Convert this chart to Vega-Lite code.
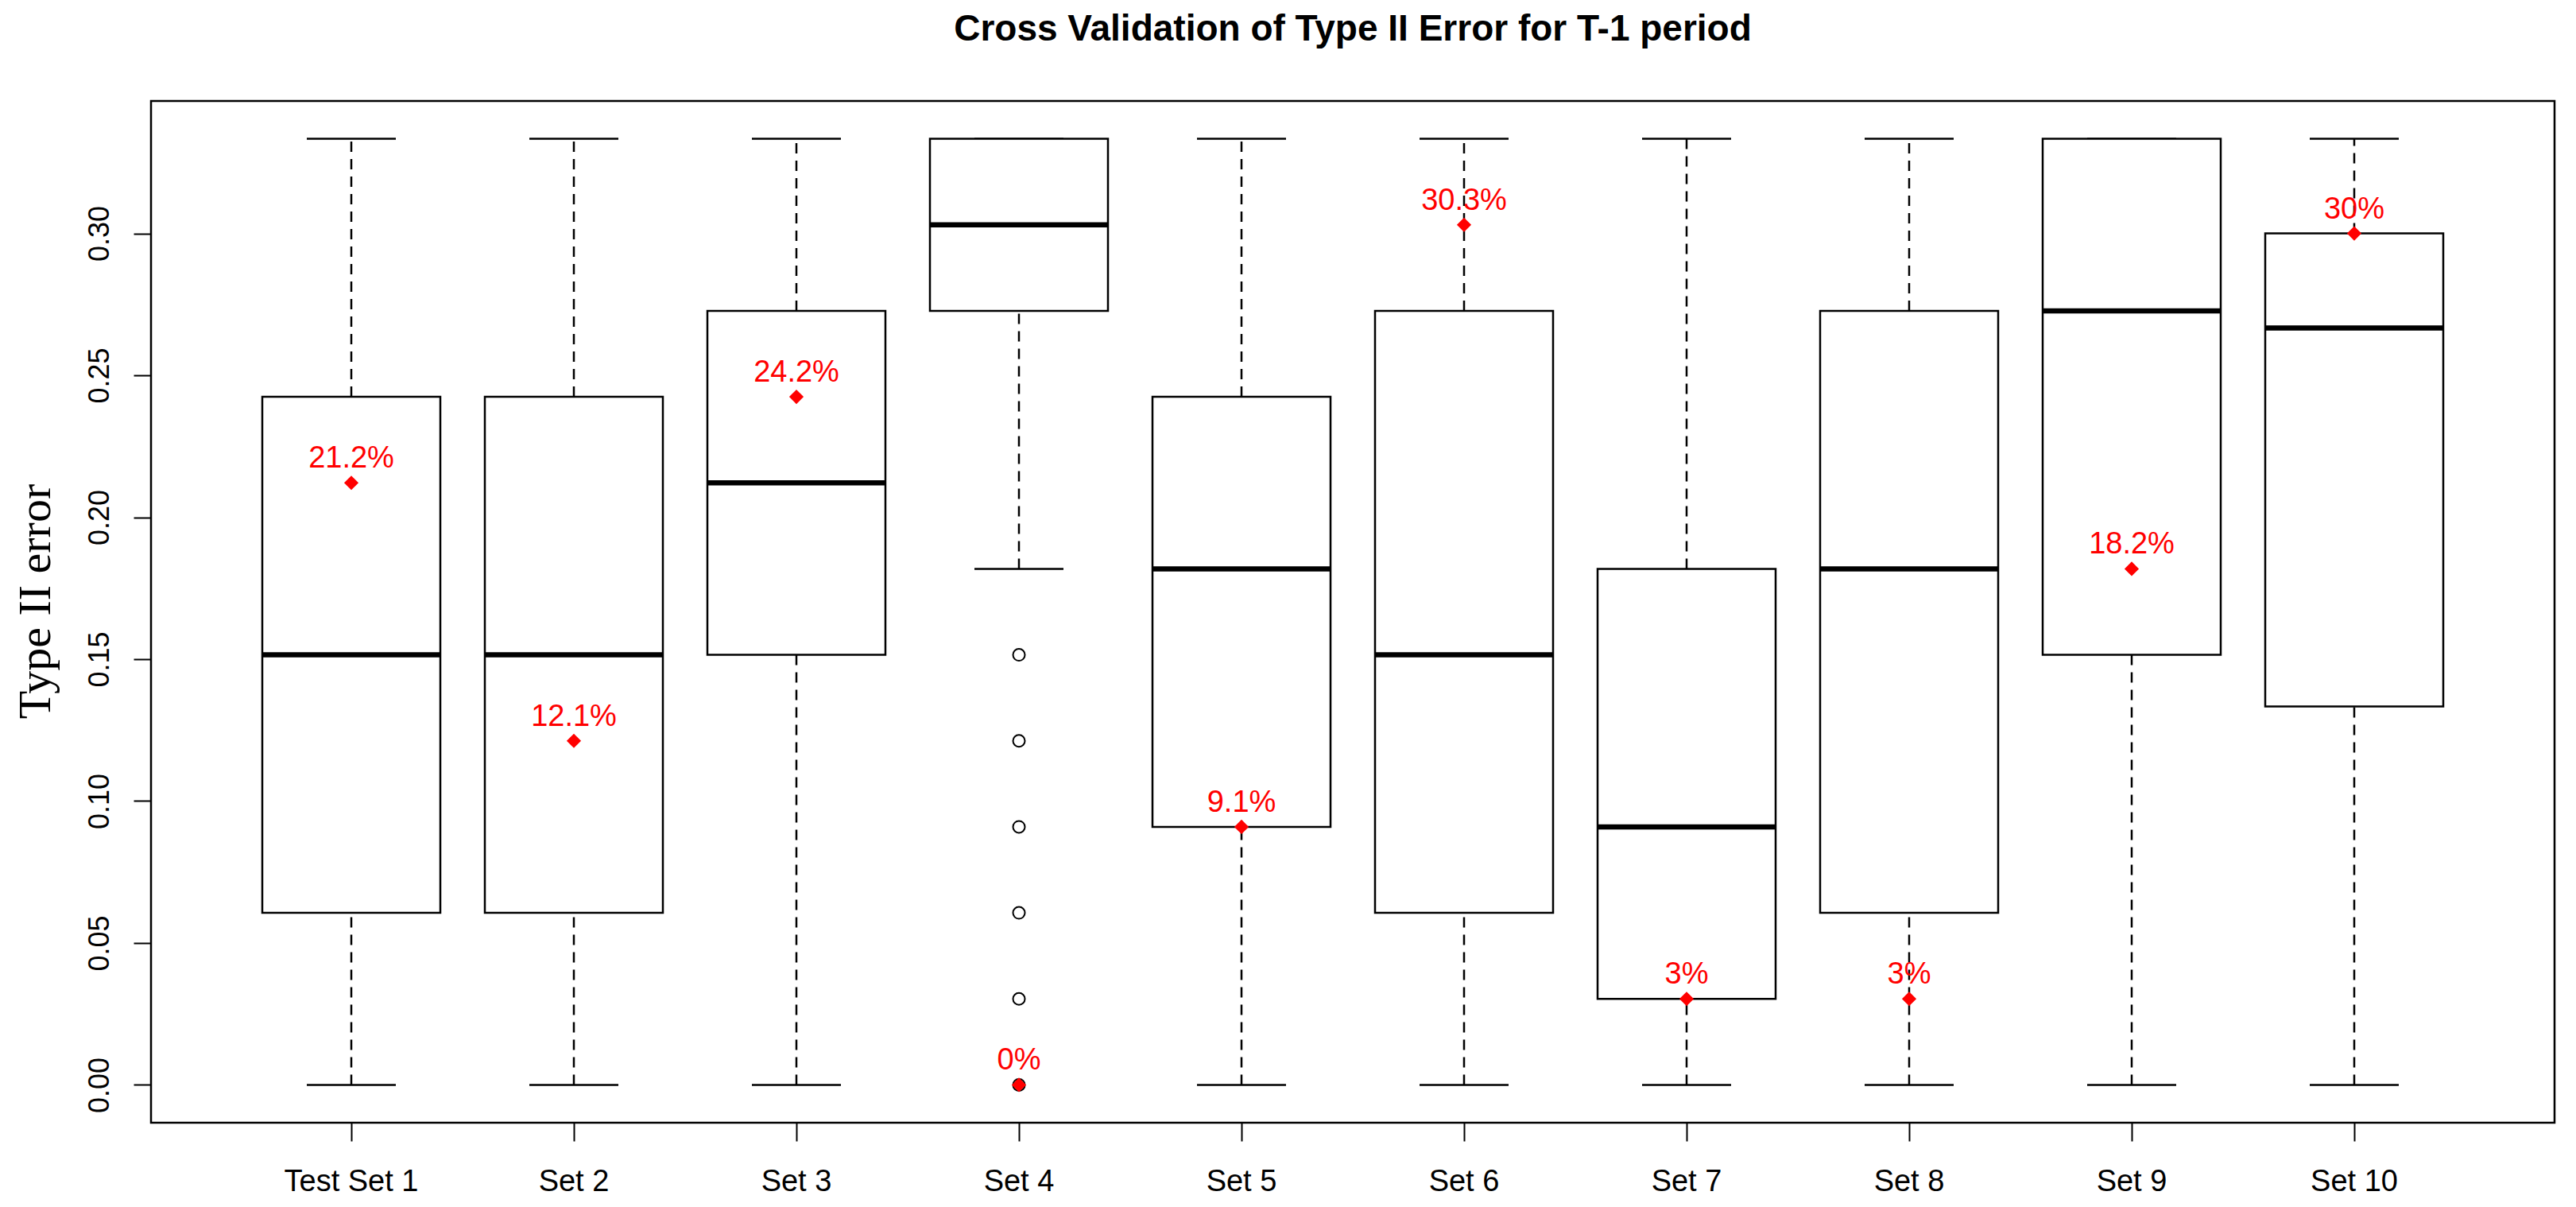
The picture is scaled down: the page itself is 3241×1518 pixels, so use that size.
{
  "$schema": "https://vega.github.io/schema/vega-lite/v6.json",
  "width": 3024,
  "height": 1285,
  "autosize": {"type": "none"},
  "padding": {"left": 190, "top": 127, "right": 27, "bottom": 106},
  "background": "white",
  "title": {
    "text": "Cross Validation of Type II Error for T-1 period",
    "font": "Liberation Sans",
    "fontSize": 46,
    "fontWeight": "bold",
    "color": "black",
    "anchor": "middle",
    "baseline": "alphabetic",
    "frame": "group",
    "offset": 30
  },
  "config": {
    "view": {"stroke": "black", "strokeWidth": 2.5},
    "axis": {
      "domain": false,
      "grid": false,
      "tickColor": "black",
      "tickWidth": 2,
      "labelColor": "black",
      "labelFont": "Liberation Sans",
      "labelOverlap": false,
      "labelFlush": false
    }
  },
  "datasets": {
    "boxes": [
      {"set": "Test Set 1", "lower": 0, "q1": 0.060606, "median": 0.151515, "q3": 0.242424, "upper": 0.333333, "rate": 0.212121, "label": "21.2%"},
      {"set": "Set 2", "lower": 0, "q1": 0.060606, "median": 0.151515, "q3": 0.242424, "upper": 0.333333, "rate": 0.121212, "label": "12.1%"},
      {"set": "Set 3", "lower": 0, "q1": 0.151515, "median": 0.212121, "q3": 0.272727, "upper": 0.333333, "rate": 0.242424, "label": "24.2%"},
      {"set": "Set 4", "lower": 0.181818, "q1": 0.272727, "median": 0.30303, "q3": 0.333333, "upper": 0.333333, "rate": 0, "label": "0%"},
      {"set": "Set 5", "lower": 0, "q1": 0.090909, "median": 0.181818, "q3": 0.242424, "upper": 0.333333, "rate": 0.090909, "label": "9.1%"},
      {"set": "Set 6", "lower": 0, "q1": 0.060606, "median": 0.151515, "q3": 0.272727, "upper": 0.333333, "rate": 0.30303, "label": "30.3%"},
      {"set": "Set 7", "lower": 0, "q1": 0.030303, "median": 0.090909, "q3": 0.181818, "upper": 0.333333, "rate": 0.030303, "label": "3%"},
      {"set": "Set 8", "lower": 0, "q1": 0.060606, "median": 0.181818, "q3": 0.272727, "upper": 0.333333, "rate": 0.030303, "label": "3%"},
      {"set": "Set 9", "lower": 0, "q1": 0.151515, "median": 0.272727, "q3": 0.333333, "upper": 0.333333, "rate": 0.181818, "label": "18.2%"},
      {"set": "Set 10", "lower": 0, "q1": 0.133333, "median": 0.266667, "q3": 0.3, "upper": 0.333333, "rate": 0.3, "label": "30%"}
    ],
    "outliers": [
      {"set": "Set 4", "value": 0.151515},
      {"set": "Set 4", "value": 0.121212},
      {"set": "Set 4", "value": 0.090909},
      {"set": "Set 4", "value": 0.060606},
      {"set": "Set 4", "value": 0.030303},
      {"set": "Set 4", "value": 0}
    ]
  },
  "data": {"name": "boxes"},
  "encoding": {
    "x": {
      "field": "set",
      "type": "nominal",
      "sort": ["Test Set 1", "Set 2", "Set 3", "Set 4", "Set 5", "Set 6", "Set 7", "Set 8", "Set 9", "Set 10"],
      "scale": {"type": "band", "paddingInner": 0, "paddingOuter": 0.4},
      "axis": {
        "title": null,
        "labelAngle": 0,
        "labelFontSize": 38,
        "labelBaseline": "alphabetic",
        "labelPadding": 62,
        "tickSize": 23
      }
    }
  },
  "layer": [
    {
      "mark": {"type": "rule", "color": "black", "strokeWidth": 2.5, "strokeDash": [13, 9]},
      "encoding": {
        "y": {
          "field": "lower",
          "type": "quantitative",
          "scale": {"domain": [-0.013333, 0.346667], "nice": false, "zero": false},
          "axis": {
            "title": "Type II error",
            "titleFont": "Liberation Serif",
            "titleFontSize": 58,
            "titleFontWeight": "normal",
            "titleColor": "black",
            "titleAngle": -90,
            "titleBaseline": "alphabetic",
            "titleAlign": "center",
            "titleX": -128,
            "titleY": 629,
            "values": [0, 0.05, 0.1, 0.15, 0.2, 0.25, 0.3],
            "format": ".2f",
            "labelAngle": -90,
            "labelAlign": "center",
            "labelBaseline": "alphabetic",
            "labelFontSize": 36,
            "labelPadding": 32,
            "tickSize": 22
          }
        },
        "y2": {"field": "q1"}
      }
    },
    {
      "mark": {"type": "rule", "color": "black", "strokeWidth": 2.5, "strokeDash": [13, 9]},
      "encoding": {
        "y": {"field": "q3", "type": "quantitative"},
        "y2": {"field": "upper"}
      }
    },
    {
      "mark": {"type": "tick", "color": "black", "opacity": 1, "size": 112, "thickness": 2.5, "orient": "horizontal"},
      "encoding": {"y": {"field": "lower", "type": "quantitative"}}
    },
    {
      "mark": {"type": "tick", "color": "black", "opacity": 1, "size": 112, "thickness": 2.5, "orient": "horizontal"},
      "encoding": {"y": {"field": "upper", "type": "quantitative"}}
    },
    {
      "mark": {"type": "bar", "fill": "white", "stroke": "black", "strokeWidth": 2.5, "opacity": 1, "width": {"band": 0.8}},
      "encoding": {
        "y": {"field": "q1", "type": "quantitative"},
        "y2": {"field": "q3"}
      }
    },
    {
      "mark": {"type": "tick", "color": "black", "opacity": 1, "size": 224, "thickness": 6.5, "orient": "horizontal"},
      "encoding": {"y": {"field": "median", "type": "quantitative"}}
    },
    {
      "data": {"name": "outliers"},
      "mark": {"type": "point", "shape": "circle", "filled": false, "stroke": "black", "strokeWidth": 2, "size": 225, "opacity": 1},
      "encoding": {"y": {"field": "value", "type": "quantitative"}}
    },
    {
      "mark": {"type": "point", "shape": "diamond", "filled": true, "color": "#FF0000", "size": 330, "opacity": 1},
      "encoding": {"y": {"field": "rate", "type": "quantitative"}}
    },
    {
      "mark": {"type": "text", "color": "#FF0000", "font": "Liberation Sans", "fontSize": 38, "align": "center", "baseline": "alphabetic", "dy": -19},
      "encoding": {
        "y": {"field": "rate", "type": "quantitative"},
        "text": {"field": "label", "type": "nominal"}
      }
    }
  ]
}
